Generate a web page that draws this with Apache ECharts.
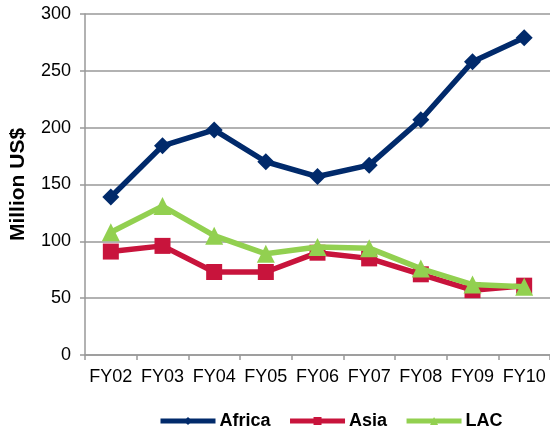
<!DOCTYPE html>
<html>
<head>
<meta charset="utf-8">
<script src="https://cdn.jsdelivr.net/npm/echarts@6/dist/echarts.min.js"></script>
<style>
  html, body { margin: 0; padding: 0; background: #fff; }
  #main { width: 550px; height: 432px; }
</style>
</head>
<body>
<div id="main"></div>
<script>
// fiscal years on the x axis
var years = ['FY02', 'FY03', 'FY04', 'FY05', 'FY06', 'FY07', 'FY08', 'FY09', 'FY10']
// Million US$ per region
var africa = [139, 184, 198, 170, 157, 167, 207, 258, 279]
var asia = [91, 96, 73, 73, 90, 85, 71, 57, 61]
var lac = [108, 131, 105, 89, 95, 94, 76, 62, 60]

var chart = echarts.init(document.getElementById('main'))

function makeSeries(name, data, color, symbol, size) {
  return {
    name: name,
    type: 'line',
    data: data,
    symbol: symbol,
    symbolSize: size,
    lineStyle: { color: color, width: 5.5 },
    itemStyle: { color: color },
    z: name == 'Africa' ? 3 : (name == 'LAC' ? 4 : 2)
  }
}

chart.setOption({
  animation: false,
  textStyle: { fontFamily: 'Liberation Sans, Arial, sans-serif' },
  grid: {
    left: 83,
    right: -2,
    top: 14,
    bottom: 77
  },
  legend: {
    top: 412,
    left: 158,
    padding: 0,
    itemWidth: 55,
    itemHeight: 10,
    itemGap: 17,
    lineStyle: { width: 5 },
    textStyle: { fontSize: 18, fontWeight: 'bold', color: '#000', padding: [0, 0, 0, -1] },
    data: ['Africa', 'Asia', 'LAC']
  },
  xAxis: {
    type: 'category',
    data: years,
    boundaryGap: true,
    axisLine: { lineStyle: { color: '#999', width: 1.5 } },
    axisTick: { show: true, length: 5, interval: 0, lineStyle: { color: '#999', width: 1.5 } },
    axisLabel: { color: '#000', fontSize: 18, margin: 13, interval: 0 }
  },
  yAxis: {
    type: 'value',
    min: 0,
    max: 300,
    interval: 50,
    name: 'Million US$',
    nameLocation: 'middle',
    nameGap: 56,
    nameTextStyle: { fontSize: 21, fontWeight: 'bold', color: '#000' },
    axisLine: { show: true, lineStyle: { color: '#999', width: 1.5 } },
    axisTick: { show: true, length: 5, lineStyle: { color: '#999', width: 1.5 } },
    axisLabel: { color: '#000', fontSize: 18, margin: 14 },
    splitLine: { lineStyle: { color: '#999', width: 1.5 } }
  },
  series: [
    makeSeries('Africa', africa, '#012a6b', 'diamond', 17),
    makeSeries('Asia', asia, '#c8143c', 'rect', 16),
    makeSeries('LAC', lac, '#92d050', 'triangle', 18)
  ]
})
</script>
</body>
</html>
